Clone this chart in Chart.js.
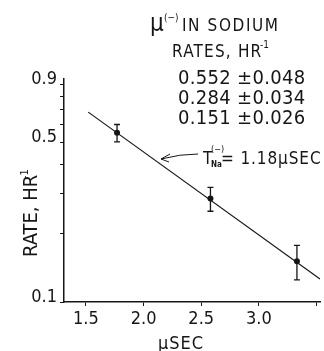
<!DOCTYPE html>
<html>
<head>
<meta charset="utf-8">
<script src="https://cdn.jsdelivr.net/npm/chart.js@4"></script>
<style>
  html, body { margin: 0; padding: 0; background: #fff; }
</style>
</head>
<body>
<canvas id="rateChart" width="324" height="351"></canvas>
<script>
// muon decay rates in sodium
const timesUs = [1.77, 2.58, 3.33];
const rates = [0.552, 0.284, 0.151];
const rateErrors = [0.048, 0.034, 0.026];
const fitTimesUs = [1.52, 3.53];
const fitRates = [0.68, 0.126];

const xTicks = [1.5, 2.0, 2.5, 3.0, 3.5];
const xTickLabels = ["1.5", "2.0", "2.5", "3.0", ""];
const yTicks = [0.1, 0.2, 0.3, 0.4, 0.5, 0.6, 0.7, 0.8, 0.9];
const yTickLabels = ["0.1", "", "", "", "0.5", "", "", "", "0.9"];
const rateRows = ["0.552 ±0.048", "0.284 ±0.034", "0.151 ±0.026"];

const ink = "#161616";
const fontFamily = "'Liberation Sans Narrow', 'DejaVu Sans Condensed', sans-serif";

function put(ctx, text, x, y, size, spacing = 0, align = "left") {
  ctx.font = `${size}px ${fontFamily}`;
  ctx.letterSpacing = `${spacing}px`;
  ctx.textAlign = align;
  ctx.fillText(text, x, y);
}

const errorBars = {
  id: "errorBars",
  afterDatasetsDraw(chart) {
    const { ctx, scales } = chart;
    ctx.save();
    ctx.strokeStyle = ink;
    ctx.lineWidth = 1.3;
    timesUs.forEach((t, i) => {
      const px = scales.x.getPixelForValue(t);
      const top = scales.y.getPixelForValue(rates[i] + rateErrors[i]);
      const bottom = scales.y.getPixelForValue(rates[i] - rateErrors[i]);
      ctx.beginPath();
      ctx.moveTo(px, top);
      ctx.lineTo(px, bottom);
      ctx.moveTo(px - 3, top);
      ctx.lineTo(px + 3, top);
      ctx.moveTo(px - 3, bottom);
      ctx.lineTo(px + 3, bottom);
      ctx.stroke();
    });
    ctx.restore();
  }
};

const labels = {
  id: "labels",
  afterDraw(chart) {
    const ctx = chart.ctx;
    ctx.save();
    ctx.fillStyle = ink;
    ctx.strokeStyle = ink;
    ctx.textBaseline = "alphabetic";

    // heading
    put(ctx, "μ", 150, 31, 24);
    put(ctx, "(−)", 164, 21, 10);
    put(ctx, "IN SODIUM", 182, 31, 17, 1.6);
    put(ctx, "RATES, HR", 172, 57, 17, 1.2);
    put(ctx, "-1", 260, 48, 10);
    rateRows.forEach((row, i) => put(ctx, row, 178, 84 + i * 20, 20, 0.3));

    // lifetime note with arrow
    put(ctx, "T", 203, 164, 17);
    put(ctx, "(−)", 211, 152, 9);
    ctx.font = `bold 8px ${fontFamily}`;
    ctx.letterSpacing = "0px";
    ctx.fillText("Na", 211, 167);
    put(ctx, "= 1.18μSEC", 221, 164, 17, 0.9);
    ctx.lineWidth = 1;
    ctx.beginPath();
    ctx.moveTo(198, 154);
    ctx.quadraticCurveTo(180, 154, 161, 159);
    ctx.moveTo(170, 154);
    ctx.lineTo(161, 159);
    ctx.lineTo(169, 162);
    ctx.stroke();

    // axis titles
    put(ctx, "μSEC", 181, 349, 18, 1, "center");
    ctx.save();
    ctx.translate(37, 257);
    ctx.rotate(-Math.PI / 2);
    put(ctx, "RATE, HR", 0, 0, 20);
    put(ctx, "-1", 78, -9, 11);
    ctx.restore();

    ctx.restore();
  }
};

new Chart(document.getElementById("rateChart"), {
  type: "scatter",
  data: {
    datasets: [
      {
        data: fitTimesUs.map((t, i) => ({ x: t, y: fitRates[i] })),
        showLine: true,
        borderColor: ink,
        borderWidth: 1.2,
        pointRadius: 0
      },
      {
        data: timesUs.map((t, i) => ({ x: t, y: rates[i] })),
        showLine: false,
        pointRadius: 3,
        pointBackgroundColor: ink,
        pointBorderColor: ink,
        pointBorderWidth: 0
      }
    ]
  },
  options: {
    responsive: false,
    animation: false,
    layout: { padding: { top: 79, left: 0, right: 0, bottom: 0 } },
    plugins: { legend: { display: false }, tooltip: { enabled: false } },
    scales: {
      x: {
        type: "linear",
        min: 1.31,
        max: 3.53,
        afterFit: scale => { scale.height = 49; },
        afterBuildTicks: scale => { scale.ticks = xTicks.map(v => ({ value: v })); },
        ticks: {
          callback: (v, i) => xTickLabels[i],
          font: { family: fontFamily, size: 18 },
          color: ink,
          padding: 3,
          maxRotation: 0,
          autoSkip: false
        },
        grid: { drawOnChartArea: false, tickLength: 4, color: ink },
        border: { color: ink, width: 1.5 }
      },
      y: {
        type: "logarithmic",
        min: 0.1,
        max: 0.95,
        afterFit: scale => { scale.width = 64; },
        afterBuildTicks: scale => { scale.ticks = yTicks.map(v => ({ value: v })); },
        ticks: {
          callback: (v, i) => yTickLabels[i],
          font: { family: fontFamily, size: 18 },
          color: ink,
          padding: 3,
          labelOffset: -5,
          autoSkip: false
        },
        grid: { drawOnChartArea: false, tickLength: 4, color: ink },
        border: { color: ink, width: 1.5 }
      }
    }
  },
  plugins: [errorBars, labels]
});
</script>
</body>
</html>
